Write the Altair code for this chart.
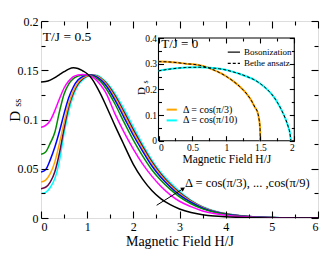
import altair as alt
import pandas as pd

# ---------------- data: main panel, T/J = 0.5 ----------------
H = [0, 0.1, 0.2, 0.3, 0.4, 0.5, 0.6, 0.7, 0.8, 0.9, 1.0, 1.1, 1.2, 1.3, 1.4,
     1.6, 1.8, 2.0, 2.2, 2.4, 2.6, 2.8, 3.0, 3.25, 3.5, 3.75, 4.0, 4.5, 5.0, 5.5, 6.0]

D_pi3 = [0.1380, 0.1385, 0.1400, 0.1425, 0.1455, 0.1485, 0.1512, 0.1525, 0.1518, 0.1495,
         0.1465, 0.1415, 0.1340, 0.1250, 0.1150, 0.0940, 0.0740, 0.0545, 0.0395, 0.0280,
         0.0195, 0.0135, 0.0092, 0.0056, 0.0034, 0.0020, 0.0012, 0.0004, 0.0001, 0.0, 0.0]
D_pi4 = [0.0920, 0.0940, 0.0990, 0.1090, 0.1210, 0.1320, 0.1390, 0.1435, 0.1452, 0.1458,
         0.1452, 0.1435, 0.1400, 0.1345, 0.1275, 0.1060, 0.0870, 0.0700, 0.0550, 0.0425,
         0.0320, 0.0235, 0.0170, 0.0115, 0.0072, 0.0045, 0.0028, 0.0010, 0.0003, 0.0001, 0.0]
D_pi5 = [0.0647, 0.0670, 0.0760, 0.0870, 0.1080, 0.1260, 0.1360, 0.1415, 0.1440, 0.1452,
         0.1455, 0.1445, 0.1420, 0.1380, 0.1320, 0.1160, 0.0970, 0.0790, 0.0630, 0.0490,
         0.0380, 0.0290, 0.0215, 0.0145, 0.0093, 0.0058, 0.0036, 0.0012, 0.0004, 0.0001, 0.0]
D_pi6 = [0.0467, 0.0490, 0.0590, 0.0720, 0.0880, 0.1060, 0.1220, 0.1330, 0.1400, 0.1435,
         0.1452, 0.1452, 0.1435, 0.1400, 0.1350, 0.1200, 0.1020, 0.0840, 0.0680, 0.0530,
         0.0410, 0.0315, 0.0235, 0.0160, 0.0102, 0.0064, 0.0040, 0.0014, 0.0004, 0.0001, 0.0]
D_pi7 = [0.0366, 0.0385, 0.0450, 0.0570, 0.0760, 0.0970, 0.1160, 0.1290, 0.1375, 0.1422,
         0.1445, 0.1452, 0.1442, 0.1412, 0.1365, 0.1225, 0.1050, 0.0870, 0.0705, 0.0555,
         0.0430, 0.0330, 0.0248, 0.0168, 0.0107, 0.0067, 0.0042, 0.0015, 0.0005, 0.0001, 0.0]
D_pi8 = [0.0298, 0.0312, 0.0365, 0.0470, 0.0660, 0.0910, 0.1130, 0.1270, 0.1360, 0.1412,
         0.1440, 0.1451, 0.1445, 0.1418, 0.1375, 0.1245, 0.1075, 0.0895, 0.0728, 0.0572,
         0.0445, 0.0342, 0.0257, 0.0174, 0.0111, 0.0070, 0.0044, 0.0015, 0.0005, 0.0001, 0.0]
D_pi9 = [0.0248, 0.0260, 0.0310, 0.0400, 0.0580, 0.0860, 0.1080, 0.1240, 0.1345, 0.1400,
         0.1435, 0.1450, 0.1448, 0.1425, 0.1385, 0.1265, 0.1105, 0.0925, 0.0750, 0.0590,
         0.0460, 0.0360, 0.0270, 0.0180, 0.0115, 0.0072, 0.0045, 0.0016, 0.0005, 0.0001, 0.0]

series_names = ["cos(π/9)", "cos(π/8)", "cos(π/7)", "cos(π/6)", "cos(π/5)", "cos(π/4)", "cos(π/3)"]
series_values = [D_pi9, D_pi8, D_pi7, D_pi6, D_pi5, D_pi4, D_pi3]
series_colors = ["#00ffff", "#670748", "#ffa500", "#0000ff", "#008b00", "#ff00ff", "#000000"]

# ---------------- data: inset, T/J = 0 ----------------
Hi_a = [0, 0.2, 0.4, 0.6, 0.7, 0.8, 0.9, 1.0, 1.1, 1.2, 1.3, 1.36, 1.42, 1.46, 1.48, 1.495, 1.5]
Di_a = [0.308, 0.306, 0.300, 0.294, 0.287, 0.277, 0.265, 0.250, 0.232, 0.210, 0.182, 0.160,
        0.130, 0.110, 0.085, 0.050, 0.0]
Hi_b = [0, 0.2, 0.4, 0.6, 0.75, 0.9, 1.0, 1.1, 1.2, 1.3, 1.42, 1.5, 1.6, 1.7, 1.76, 1.82,
        1.87, 1.91, 1.935, 1.95]
Di_b = [0.272, 0.280, 0.285, 0.286, 0.284, 0.280, 0.275, 0.268, 0.260, 0.250, 0.236, 0.222,
        0.200, 0.170, 0.145, 0.115, 0.085, 0.055, 0.030, 0.0]
inset_names = ["Δ = cos(π/3)", "Δ = cos(π/10)"]
inset_colors = ["#ffa500", "#00ffff"]

x_major = [0, 1, 2, 3, 4, 5, 6]
x_minor = [0.5, 1.5, 2.5, 3.5, 4.5, 5.5]
y_major = [0, 0.05, 0.1, 0.15, 0.2]
y_minor = [0.025, 0.075, 0.125, 0.175]
xi_major = [0, 0.5, 1, 1.5, 2]
xi_minor = [0.25, 0.75, 1.25, 1.75]
yi_major = [0, 0.1, 0.2, 0.3, 0.4]
yi_minor = [0.05, 0.15, 0.25, 0.35]

# ---------------- layout ----------------
FONT = "Liberation Serif"
W, HT = 277, 197
IX0, IX1, IY0, IY1 = 117.5, 253.3, 119.7, 17.0

xs = alt.Scale(domain=[0, 6], nice=False, zero=False)
ys = alt.Scale(domain=[0, 0.2], nice=False, zero=False)
xi = alt.Scale(domain=[0, 2], range=[IX0, IX1], nice=False, zero=False)
yi = alt.Scale(domain=[0, 0.4], range=[IY0, IY1], nice=False, zero=False)


def tick_axis(orient, offset, values, size):
    return alt.Axis(orient=orient, offset=offset, values=values, labels=False,
                    domain=False, ticks=True, tickSize=size, tickWidth=1.1,
                    tickColor="black", grid=False, title=None, zindex=1)


def tick_layer(xsc, ysc, x0, y0, xo, xoff, xv, yo, yoff, yv, size):
    return alt.Chart(pd.DataFrame({"x": [x0], "y": [y0]})).mark_point(opacity=0).encode(
        x=alt.X("x:Q", scale=xsc, axis=tick_axis(xo, xoff, xv, size)),
        y=alt.Y("y:Q", scale=ysc, axis=tick_axis(yo, yoff, yv, size)),
    )


def text(xsc, ysc, x, y, s, size, align="left", angle=0, baseline="middle"):
    return alt.Chart(pd.DataFrame({"x": [x], "y": [y], "t": [s]})).mark_text(
        font=FONT, fontSize=size, align=align, baseline=baseline, angle=angle, color="black"
    ).encode(x=alt.X("x:Q", scale=xsc, axis=None), y=alt.Y("y:Q", scale=ysc, axis=None), text="t:N")


def seg(xsc, ysc, x0, x1, y, color, width, dash=None):
    kw = dict(color=color, strokeWidth=width)
    if dash:
        kw["strokeDash"] = dash
    return alt.Chart(pd.DataFrame({"x": [x0], "x2": [x1], "y": [y]})).mark_rule(**kw).encode(
        x=alt.X("x:Q", scale=xsc, axis=None), x2="x2:Q", y=alt.Y("y:Q", scale=ysc, axis=None))


# ---------------- main panel ----------------
rows = []
for name, vals in zip(series_names, series_values):
    for h, d in zip(H, vals):
        rows.append({"H": h, "D": d, "series": name})
main_df = pd.DataFrame(rows)

curves = alt.Chart(main_df).mark_line(strokeWidth=1.5, interpolate="monotone", clip=True).encode(
    x=alt.X("H:Q", scale=xs, axis=alt.Axis(
        orient="bottom", values=x_major, format="~g", ticks=False, domain=False, grid=False,
        labelFont=FONT, labelFontSize=12, labelPadding=3, labelColor="black",
        title="Magnetic Field H/J", titleFont=FONT, titleFontSize=14, titleFontWeight="normal",
        titleColor="black", titlePadding=2, zindex=1)),
    y=alt.Y("D:Q", scale=ys, axis=alt.Axis(
        orient="left", values=y_major, format="~g", ticks=False, domain=False, grid=False,
        labelFont=FONT, labelFontSize=12, labelPadding=3, labelColor="black", title=None, zindex=1)),
    color=alt.Color("series:N", scale=alt.Scale(domain=series_names, range=series_colors), legend=None),
)

arrow_x, arrow_y, arrow_x2, arrow_y2 = 2.505, 0.0129, 3.08, 0.0298
arrow_line = alt.Chart(pd.DataFrame({"x": [arrow_x], "y": [arrow_y], "x2": [arrow_x2], "y2": [arrow_y2]})).mark_rule(
    color="black", strokeWidth=1).encode(
    x=alt.X("x:Q", scale=xs, axis=None), y=alt.Y("y:Q", scale=ys, axis=None), x2="x2:Q", y2="y2:Q")
arrow_head = alt.Chart(pd.DataFrame({"x": [arrow_x2], "y": [arrow_y2]})).mark_point(
    shape="triangle-up", filled=True, color="black", size=22, angle=58, opacity=1).encode(
    x=alt.X("x:Q", scale=xs, axis=None), y=alt.Y("y:Q", scale=ys, axis=None))

main_group = alt.layer(
    curves,
    tick_layer(xs, ys, 0, 0, "top", -HT, x_major, "right", -W, y_major, 7),
    tick_layer(xs, ys, 0, 0, "top", -HT, x_minor, "right", -W, y_minor, 4),
    tick_layer(xs, ys, 0, 0, "bottom", -HT, x_major, "left", -W, y_major, 7),
    tick_layer(xs, ys, 0, 0, "bottom", -HT, x_minor, "left", -W, y_minor, 4),
    text(xs, ys, 0.04, 0.1835, "T/J = 0.5", 13.5),
    text(xs, ys, 3.12, 0.0352, "Δ = cos(π/3), ... ,cos(π/9)", 12.5),
    text(xs, ys, -0.57, 0.1032, "D", 15, align="center", angle=270),
    text(xs, ys, -0.49, 0.1170, "ss", 10.5, align="center", angle=270),
    arrow_line,
    arrow_head,
).resolve_axis(x="independent", y="independent")

# ---------------- inset ----------------
irows = []
for name, hs, ds in [(inset_names[0], Hi_a, Di_a), (inset_names[1], Hi_b, Di_b)]:
    for h, d in zip(hs, ds):
        irows.append({"H": h, "D": d, "series": name})
inset_df = pd.DataFrame(irows)

frame = alt.Chart(pd.DataFrame({"x": [0], "x2": [2], "y": [0], "y2": [0.4]})).mark_rect(
    fill="white", stroke="black", strokeWidth=1.1).encode(
    x=alt.X("x:Q", scale=xi, axis=None), x2="x2:Q", y=alt.Y("y:Q", scale=yi, axis=None), y2="y2:Q")

boson = alt.Chart(inset_df).mark_line(strokeWidth=2, interpolate="monotone").encode(
    x=alt.X("H:Q", scale=xi, axis=alt.Axis(
        orient="bottom", offset=IY0 - HT, values=xi_major, format="~g", ticks=False, domain=False,
        grid=False, labelFont=FONT, labelFontSize=9.5, labelPadding=2, labelColor="black",
        title="Magnetic Field H/J", titleFont=FONT, titleFontSize=11.5, titleFontWeight="normal",
        titleColor="black", titlePadding=1, zindex=1)),
    y=alt.Y("D:Q", scale=yi, axis=alt.Axis(
        orient="left", offset=-IX0, values=yi_major, format="~g", ticks=False, domain=False,
        grid=False, labelFont=FONT, labelFontSize=9.5, labelPadding=2, labelColor="black",
        title=None, zindex=1)),
    color=alt.Color("series:N", scale=alt.Scale(domain=inset_names, range=inset_colors), legend=None),
)
bethe = alt.Chart(inset_df).mark_line(strokeWidth=1, color="black", strokeDash=[3, 2],
                                      interpolate="monotone").encode(
    x=alt.X("H:Q", scale=xi, axis=None), y=alt.Y("D:Q", scale=yi, axis=None), detail="series:N")

inset_group = alt.layer(
    frame,
    boson,
    bethe,
    tick_layer(xi, yi, 0, 0, "top", -IY0, xi_major, "right", IX0 - W, yi_major, 5),
    tick_layer(xi, yi, 0, 0, "top", -IY0, xi_minor, "right", IX0 - W, yi_minor, 3),
    tick_layer(xi, yi, 0, 0, "bottom", IY1 - HT, xi_major, "left", -IX1, yi_major, 5),
    tick_layer(xi, yi, 0, 0, "bottom", IY1 - HT, xi_minor, "left", -IX1, yi_minor, 3),
    text(xi, yi, 0.04, 0.377, "T/J = 0", 13),
    seg(xi, yi, 1.02, 1.20, 0.345, "black", 1.2),
    text(xi, yi, 1.26, 0.345, "Bosonization", 9),
    seg(xi, yi, 1.02, 1.20, 0.301, "black", 1.2, [3, 2]),
    text(xi, yi, 1.26, 0.301, "Bethe ansatz", 9),
    seg(xi, yi, 0.12, 0.27, 0.121, inset_colors[0], 2),
    text(xi, yi, 0.36, 0.121, inset_names[0], 10),
    seg(xi, yi, 0.12, 0.27, 0.079, inset_colors[1], 2),
    text(xi, yi, 0.36, 0.079, inset_names[1], 10),
    text(xi, yi, -0.243, 0.1936, "D", 11, align="center", angle=270),
    text(xi, yi, -0.177, 0.2286, "s", 8, align="center", angle=270),
).resolve_axis(x="independent", y="independent")

chart = alt.layer(main_group, inset_group).resolve_scale(
    x="independent", y="independent", color="independent"
).properties(
    width=W, height=HT,
    autosize=alt.AutoSizeParams(type="none"),
    padding={"left": 33, "top": 13, "right": 6, "bottom": 31},
).configure_view(stroke="black", strokeWidth=1.5).configure(background="white")

chart.save("out.html", embed_options={"renderer": "svg", "actions": False})
